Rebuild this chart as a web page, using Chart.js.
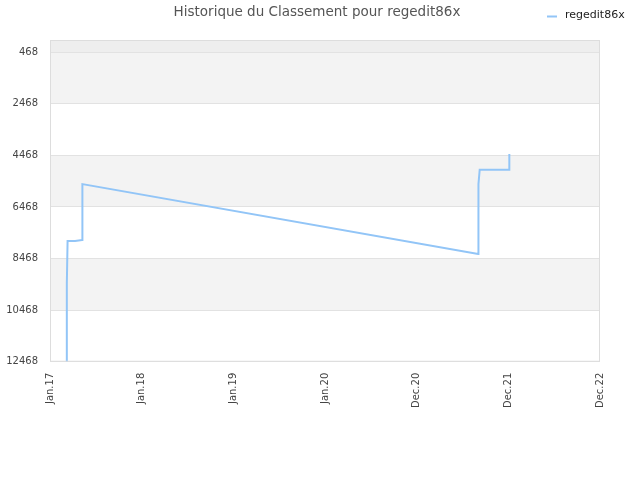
<!DOCTYPE html>
<html>
<head>
<meta charset="utf-8">
<script src="https://cdn.jsdelivr.net/npm/chart.js@4"></script>
<style>
html,body{margin:0;padding:0;background:#fff;}
#wrap{width:640px;height:480px;}
</style>
</head>
<body>
<div id="wrap"><canvas id="c" width="640" height="480"></canvas></div>
<script>
// Days since 1 Jan 2017
const days = [66, 67, 70, 100, 128, 129, 1705, 1706, 1711, 1828, 1829];
const ranks = [12468, 9468, 7793, 7793, 7754, 5584, 8288, 5584, 5026, 5026, 4415];
const seriesName = 'regedit86x';
const titleText = 'Historique du Classement pour regedit86x';
const yTicks = [468, 2468, 4468, 6468, 8468, 10468, 12468];
const xTicks = [0, 365, 730, 1095, 1460, 1825, 2190];
const xLabels = ['Jan.17', 'Jan.18', 'Jan.19', 'Jan.20', 'Dec.20', 'Dec.21', 'Dec.22'];

const bandPlugin = {
  id: 'bands',
  beforeDraw(chart) {
    const {ctx, chartArea: a, scales: {y}} = chart;
    ctx.save();
    ctx.fillStyle = '#eeeeee';
    ctx.fillRect(a.left, y.getPixelForValue(0), a.right - a.left, y.getPixelForValue(yTicks[0]) - y.getPixelForValue(0));
    for (let i = 0; i < yTicks.length - 1; i += 2) {
      const p1 = y.getPixelForValue(yTicks[i]);
      const p2 = y.getPixelForValue(yTicks[i + 1]);
      ctx.fillStyle = '#f3f3f3';
      ctx.fillRect(a.left, p1, a.right - a.left, p2 - p1);
    }
    ctx.restore();
  },
  afterDatasetsDraw(chart) {
    const {ctx, chartArea: a} = chart;
    ctx.save();
    ctx.strokeStyle = '#dddddd';
    ctx.lineWidth = 1;
    ctx.strokeRect(a.left + 0.5, a.top + 0.5, a.right - a.left - 1, a.bottom - a.top - 1);
    ctx.restore();
  },
  afterDraw(chart) {
    const {ctx} = chart;
    const ds = chart.data.datasets[0];
    ctx.save();
    // title
    ctx.fillStyle = '#555';
    ctx.font = '13.5px "DejaVu Sans"';
    ctx.textAlign = 'center';
    ctx.textBaseline = 'middle';
    ctx.fillText(titleText, 317, 12);
    // legend
    ctx.strokeStyle = ds.borderColor;
    ctx.lineWidth = 2;
    ctx.beginPath();
    ctx.moveTo(547, 16.5);
    ctx.lineTo(557, 16.5);
    ctx.stroke();
    ctx.fillStyle = '#222';
    ctx.font = '11px "DejaVu Sans"';
    ctx.textAlign = 'left';
    ctx.fillText(ds.label, 565, 15);
    ctx.restore();
  }
};

new Chart(document.getElementById('c'), {
  type: 'line',
  data: {
    datasets: [{
      label: seriesName,
      data: days.map((d, i) => ({x: d, y: ranks[i]})),
      borderColor: '#92c5f7',
      backgroundColor: '#92c5f7',
      borderWidth: 2,
      pointRadius: 0,
      fill: false,
      tension: 0
    }]
  },
  options: {
    responsive: false,
    animation: false,
    layout: {padding: {left: 6, right: 40, top: 40, bottom: 69}},
    plugins: {
      title: {display: false},
      legend: {display: false},
      tooltip: {enabled: false}
    },
    scales: {
      x: {
        type: 'linear',
        min: 0,
        max: 2190,
        afterBuildTicks(s) { s.ticks = xTicks.map(v => ({value: v})); },
        afterFit(s) { s.paddingLeft = 0; s.paddingRight = 0; },
        ticks: {
          autoSkip: false,
          maxRotation: 90,
          minRotation: 90,
          color: '#444',
          font: {family: 'DejaVu Sans', size: 10},
          callback(v) { const i = xTicks.indexOf(v); return i >= 0 ? xLabels[i] : ''; }
        },
        grid: {display: false},
        border: {display: false}
      },
      y: {
        type: 'linear',
        reverse: true,
        min: 0,
        max: 12468,
        afterBuildTicks(s) { s.ticks = yTicks.map(v => ({value: v})); },
        afterFit(s) { s.width = 44; },
        ticks: {
          color: '#444',
          font: {family: 'DejaVu Sans', size: 10},
          padding: 12,
          callback(v) { return String(v); }
        },
        grid: {color: '#e2e2e2', drawTicks: false},
        border: {display: false}
      }
    }
  },
  plugins: [bandPlugin]
});
</script>
</body>
</html>
